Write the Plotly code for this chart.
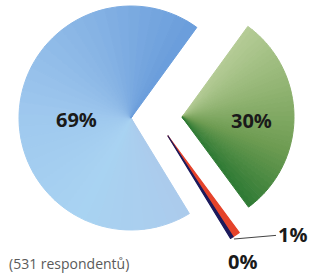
import plotly.graph_objects as go

# ---- data ----
slice_labels = ["30%", "1%", "0%", "69%"]   # displayed labels, clockwise order
slice_values = [30, 1, 0.4, 69]            # 0% slice is a tiny non-zero share
slice_colors = ["#77a258", "#e5432b", "#1c1a5c", "#9cc4ea"]
note_text = "(531 respondentů)"

# colour stops used to shade each slice along its sweep (style only)
shade_stops = {
    0: ["#b5cc96", "#93b574", "#6e9c52", "#2e7a34"],
    3: ["#abcbec", "#a8d3f2", "#9fc8ee", "#87b4e5", "#6a9ddb"],
}

W, H = 314, 276
TRANSPARENT = "rgba(0,0,0,0)"
N_SUB = 40


def hex2rgb(h):
    h = h.lstrip("#")
    return [int(h[i:i + 2], 16) for i in (0, 2, 4)]


def shade(stops, t):
    seg = t * (len(stops) - 1)
    i = min(int(seg), len(stops) - 2)
    f = seg - i
    a, b = hex2rgb(stops[i]), hex2rgb(stops[i + 1])
    c = [round(a[k] + (b[k] - a[k]) * f) for k in range(3)]
    return "rgb(%d,%d,%d)" % tuple(c)


def px_domain(cx, cy, r):
    """domain for a pie centred at pixel (cx, cy) with radius r"""
    return dict(x=[(cx - r) / W, (cx + r) / W],
                y=[(H - cy - r) / H, (H - cy + r) / H])


def slice_trace(show_idx, domain, line_w=0.0, shaded=False):
    vals, cols = [], []
    for i, (v, c) in enumerate(zip(slice_values, slice_colors)):
        if i not in show_idx:
            vals.append(v)
            cols.append(TRANSPARENT)
        elif shaded and i in shade_stops:
            for k in range(N_SUB):
                vals.append(v / N_SUB)
                cols.append(shade(shade_stops[i], (k + 0.5) / N_SUB))
        else:
            vals.append(v)
            cols.append(c)
    return go.Pie(
        values=vals, sort=False,
        direction="clockwise", rotation=36,
        marker=dict(colors=cols, line=dict(color=cols, width=line_w)),
        textinfo="none", hoverinfo="skip", domain=domain, showlegend=False,
    )


fig = go.Figure()
# blue 69% slice (pulled left)
fig.add_trace(slice_trace({3}, px_domain(131, 118, 112), line_w=1.0, shaded=True))
# green 30% slice (pulled right)
fig.add_trace(slice_trace({0}, px_domain(182, 117, 112), line_w=1.0, shaded=True))
# the two thin slices (pulled down-right)
fig.add_trace(slice_trace({1, 2}, px_domain(168, 136, 120), line_w=1.2))

font_bold = dict(family="Open Sans", size=20, color="#1a1a1a")
ann = [
    dict(text="<b>" + slice_labels[3] + "</b>", x=76 / W, y=1 - 120 / H),
    dict(text="<b>" + slice_labels[0] + "</b>", x=251 / W, y=1 - 121 / H),
    dict(text="<b>" + slice_labels[2] + "</b>", x=242 / W, y=1 - 261 / H),
]
annotations = [dict(a, xref="paper", yref="paper", showarrow=False,
                    xanchor="center", yanchor="middle", font=font_bold) for a in ann]
annotations.append(dict(
    text="<b>" + slice_labels[1] + "</b>", xref="paper", yref="paper",
    x=234 / W, y=1 - 239 / H, showarrow=True, arrowhead=0, arrowwidth=1,
    arrowcolor="#444444", ax=58, ay=-5, font=font_bold,
    xanchor="center", yanchor="middle"))
annotations.append(dict(
    text=note_text, xref="paper", yref="paper", x=7 / W, y=1 - 263 / H,
    showarrow=False, xanchor="left", yanchor="middle",
    font=dict(family="Open Sans", size=14, color="#5a5a5a")))

fig.update_layout(
    width=W, height=H, margin=dict(l=0, r=0, t=0, b=0),
    paper_bgcolor="white", plot_bgcolor="white",
    annotations=annotations, showlegend=False,
)

fig.write_html("out.html", config={"displayModeBar": False},
               post_script="document.body.style.margin='0';")
